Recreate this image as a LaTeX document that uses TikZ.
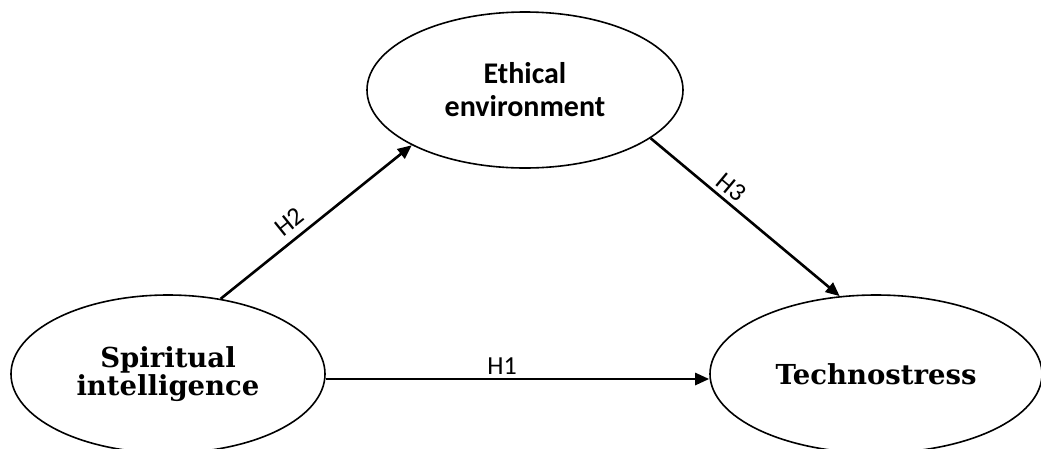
\documentclass[tikz,border=0pt]{standalone}
\usepackage{fontspec}
\newfontfamily\serifbold{DejaVu Serif}
\newfontfamily\carl{Carlito}
\usetikzlibrary{shapes.geometric,arrows.meta}
\tikzset{
  construct/.style={draw=black, line width=1.6pt, ellipse, inner sep=0pt, align=center},
  serifbox/.style={construct, font=\serifbold\bfseries\fontsize{27.5}{28.5}\selectfont},
  sansbox/.style={construct, font=\carl\bfseries\fontsize{30}{33}\selectfont},
  path/.style={line width=2.6pt, -{Triangle[length=14pt,width=12pt]}},
  hlabel/.style={font=\carl\fontsize{26}{28}\selectfont, inner sep=3pt}
}
\begin{document}
\begin{tikzpicture}[x=1pt,y=-1pt]
\clip (0,0) rectangle (1041,448);
\fill[white] (0,0) rectangle (1041,448);
\node[sansbox, minimum width=316pt, minimum height=156pt] (eth) at (525,90) {Ethical\\environment};
\node[serifbox, minimum width=314pt, minimum height=158pt] (spi) at (168,374) {Spiritual\\intelligence};
\node[serifbox, minimum width=332pt, minimum height=158pt] (tech) at (876,374) {Technostress};
\draw[path] ([yshift=-5pt]spi.east) -- node[hlabel, above, pos=0.46] {H1} ([yshift=-5pt]tech.west);
\draw[path] (spi.55) -- node[hlabel, above=4pt, sloped, pos=0.415] {H2} (eth.206);
\draw[path] (eth.-21) -- node[hlabel, above=1pt, sloped, pos=0.38] {H3} (tech.115);
\end{tikzpicture}
\end{document}
